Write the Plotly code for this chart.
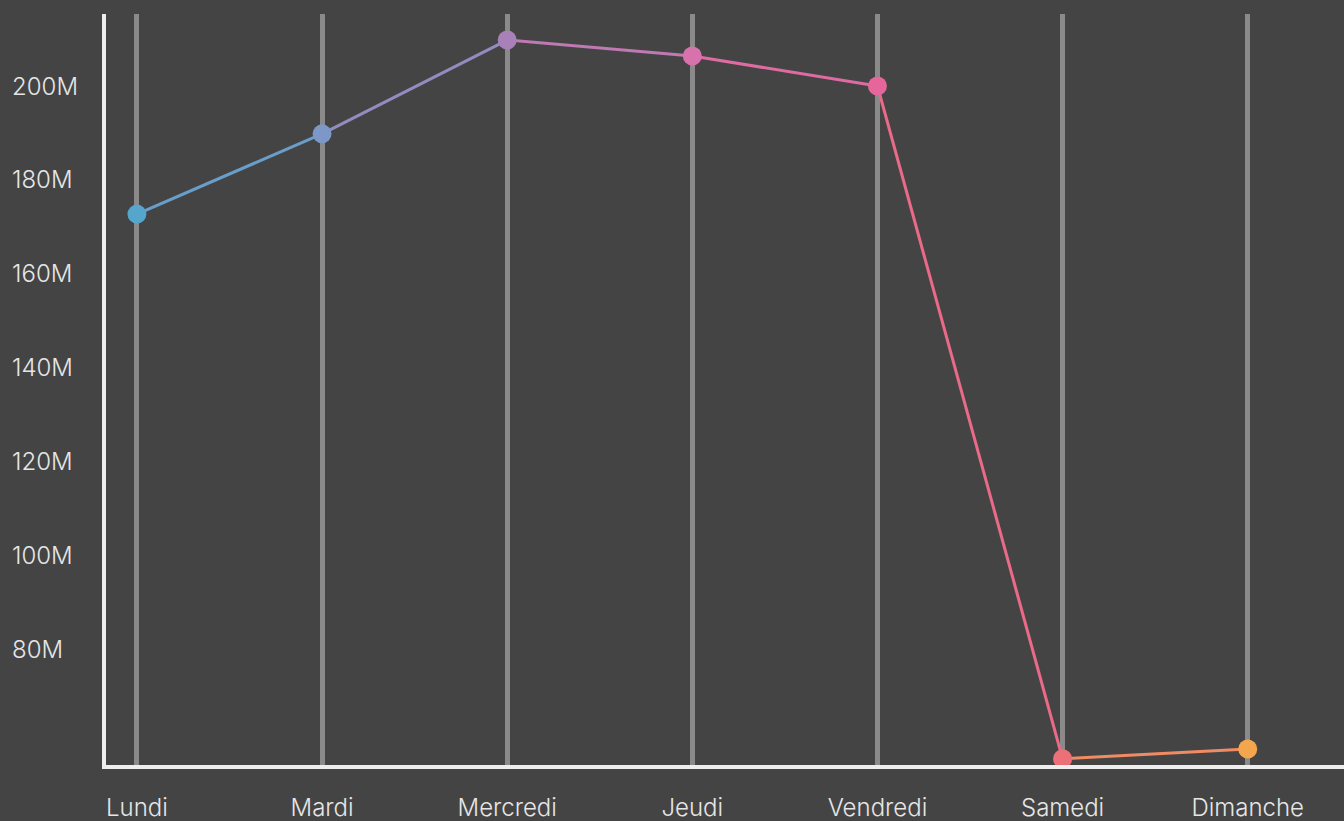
import plotly.graph_objects as go

days = ["Lundi", "Mardi", "Mercredi", "Jeudi", "Vendredi", "Samedi", "Dimanche"]
values = [172.7e6, 189.8e6, 209.8e6, 206.4e6, 200.0e6, 56.6e6, 58.7e6]
point_colors = ["#56a5cc", "#7d97c8", "#a881b8", "#d872ac", "#e6659a", "#ec7078", "#f4a64f"]
ytick_vals = [80e6, 100e6, 120e6, 140e6, 160e6, 180e6, 200e6]
ytick_text = ["80M", "100M", "120M", "140M", "160M", "180M", "200M"]

BG = "#444444"
TXT = "#e6e6e6"
FONT = "Inter"


def blend(c1, c2):
    a = [int(c1[i:i + 2], 16) for i in (1, 3, 5)]
    b = [int(c2[i:i + 2], 16) for i in (1, 3, 5)]
    return "rgb({},{},{})".format(*[(x + y) // 2 for x, y in zip(a, b)])


fig = go.Figure()
for i in range(len(days) - 1):
    fig.add_trace(go.Scatter(
        x=[i, i + 1], y=values[i:i + 2], mode="lines",
        line=dict(color=blend(point_colors[i], point_colors[i + 1]), width=3),
        hoverinfo="skip", showlegend=False,
    ))
fig.add_trace(go.Scatter(
    x=list(range(len(days))), y=values, mode="markers",
    marker=dict(color=point_colors, size=19, line=dict(width=0)),
    showlegend=False,
    text=days,
))

W, H = 1344, 821
ml, mr, mt, mb = 106, 0, 14, 56

fig.update_layout(
    width=W, height=H,
    margin=dict(l=ml, r=mr, t=mt, b=mb),
    paper_bgcolor=BG, plot_bgcolor=BG,
    font=dict(family=FONT, color=TXT, size=24, weight=300),
    xaxis=dict(
        range=[-0.167, 6.52],
        tickvals=list(range(len(days))), ticktext=days,
        showgrid=True, gridcolor="#8a8a8a", gridwidth=5,
        zeroline=False,
        showline=True, linecolor="#eeeeee", linewidth=4,
        ticks="outside", ticklen=18, tickcolor="rgba(0,0,0,0)",
        tickfont=dict(family=FONT, size=24, color=TXT, weight=300),
    ),
    yaxis=dict(
        range=[55.28e6, 215.35e6],
        tickvals=ytick_vals, showticklabels=False,
        showgrid=False, zeroline=False,
        showline=True, linecolor="#eeeeee", linewidth=4,
    ),
)

plot_w = W - ml - mr
for v, t in zip(ytick_vals, ytick_text):
    fig.add_annotation(
        x=(10 - ml) / plot_w, xref="paper", y=v, yref="y",
        text=t, showarrow=False, xanchor="left", yanchor="middle",
        font=dict(family=FONT, size=24, color=TXT, weight=300),
    )

fig.write_html(
    "out.html",
    config={"displayModeBar": False},
    post_script="document.body.style.margin='0';document.body.style.overflow='hidden';document.body.style.background='#444444';",
)
